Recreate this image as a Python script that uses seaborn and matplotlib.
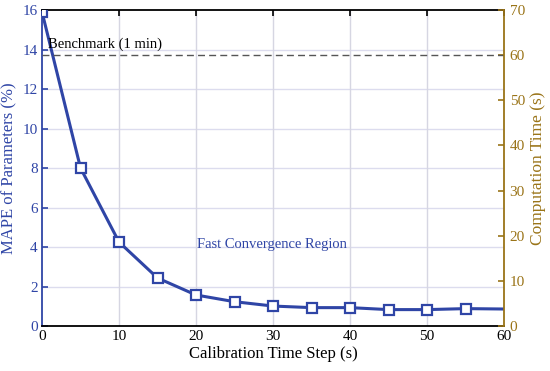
import matplotlib
matplotlib.use("Agg")
import matplotlib.pyplot as plt
import seaborn as sns
import pandas as pd

time_step = [0, 5, 10, 15, 20, 25, 30, 35, 40, 45, 50, 55, 60]
mape = [15.9, 8.0, 4.25, 2.43, 1.57, 1.23, 1.01, 0.93, 0.93, 0.83, 0.83, 0.88, 0.86]
benchmark_time = 60  # seconds (1 min)
left_ticks = [0, 2, 4, 6, 8, 10, 12, 14, 16]
right_ticks = [0, 10, 20, 30, 40, 50, 60, 70]
x_ticks = [0, 10, 20, 30, 40, 50, 60]

sns.set_theme(style="white")
plt.rcParams['font.family'] = ['Liberation Serif', 'DejaVu Serif']

BLUE = '#2f45a6'
GOLD = '#9a7418'
GRID = '#dcdcee'

df = pd.DataFrame({'t': time_step, 'mape': mape})

fig = plt.figure(figsize=(5.5, 3.71), dpi=100)
ax = fig.add_axes([0.0764, 0.1213, 0.84, 0.8517])

for v in left_ticks[1:-1]:
    ax.axhline(v, color=GRID, lw=1.0, zorder=0)
for v in x_ticks[1:-1]:
    ax.axvline(v, color='#d6d6e2', lw=1.0, zorder=0)

sns.lineplot(data=df, x='t', y='mape', ax=ax, color=BLUE, lw=2.2,
             marker='s', markersize=6.5, markerfacecolor='white',
             markeredgecolor=BLUE, markeredgewidth=1.6,
             markevery=list(range(len(time_step) - 1)), zorder=3)

ax.set_xlim(0, 60)
ax.set_ylim(0, 16)
ax.set_xticks(x_ticks)
ax.set_yticks(left_ticks)

ax2 = ax.twinx()
ax2.set_ylim(0, 70)
ax2.set_yticks(right_ticks)
ax2.axhline(benchmark_time, color='#555555', lw=1.0, ls=(0, (5, 3)), zorder=2)

ax.text(0.75, 14.1, 'Benchmark (1 min)', fontsize=10.5, color='black')
ax.text(20.1, 3.95, 'Fast Convergence Region', fontsize=10.5, color=BLUE)

ax.set_xlabel('Calibration Time Step (s)', fontsize=12, color='black', labelpad=2)
ax.set_ylabel('MAPE of Parameters (%)', fontsize=12, color=BLUE, labelpad=4)
ax2.set_ylabel('Computation Time (s)', fontsize=12.5, color=GOLD, labelpad=4)

ax.tick_params(axis='x', direction='in', length=4, width=1.2, colors='black',
               labelsize=11, top=True, pad=3)
ax.tick_params(axis='y', direction='in', length=4, width=1.2, colors=BLUE,
               labelsize=11, pad=3)
ax2.tick_params(axis='y', direction='in', length=4, width=1.2, colors=GOLD,
                labelsize=11, pad=4)

for s in ['top', 'bottom']:
    ax.spines[s].set_color('black')
    ax.spines[s].set_linewidth(1.3)
    ax2.spines[s].set_visible(False)
ax.spines['left'].set_color(BLUE)
ax.spines['left'].set_linewidth(1.3)
ax2.spines['left'].set_visible(False)
ax2.spines['right'].set_color(GOLD)
ax2.spines['right'].set_linewidth(1.3)
ax.spines['right'].set_visible(False)
ax2.spines['right'].set_visible(True)

fig.savefig('out.png', dpi=100)
